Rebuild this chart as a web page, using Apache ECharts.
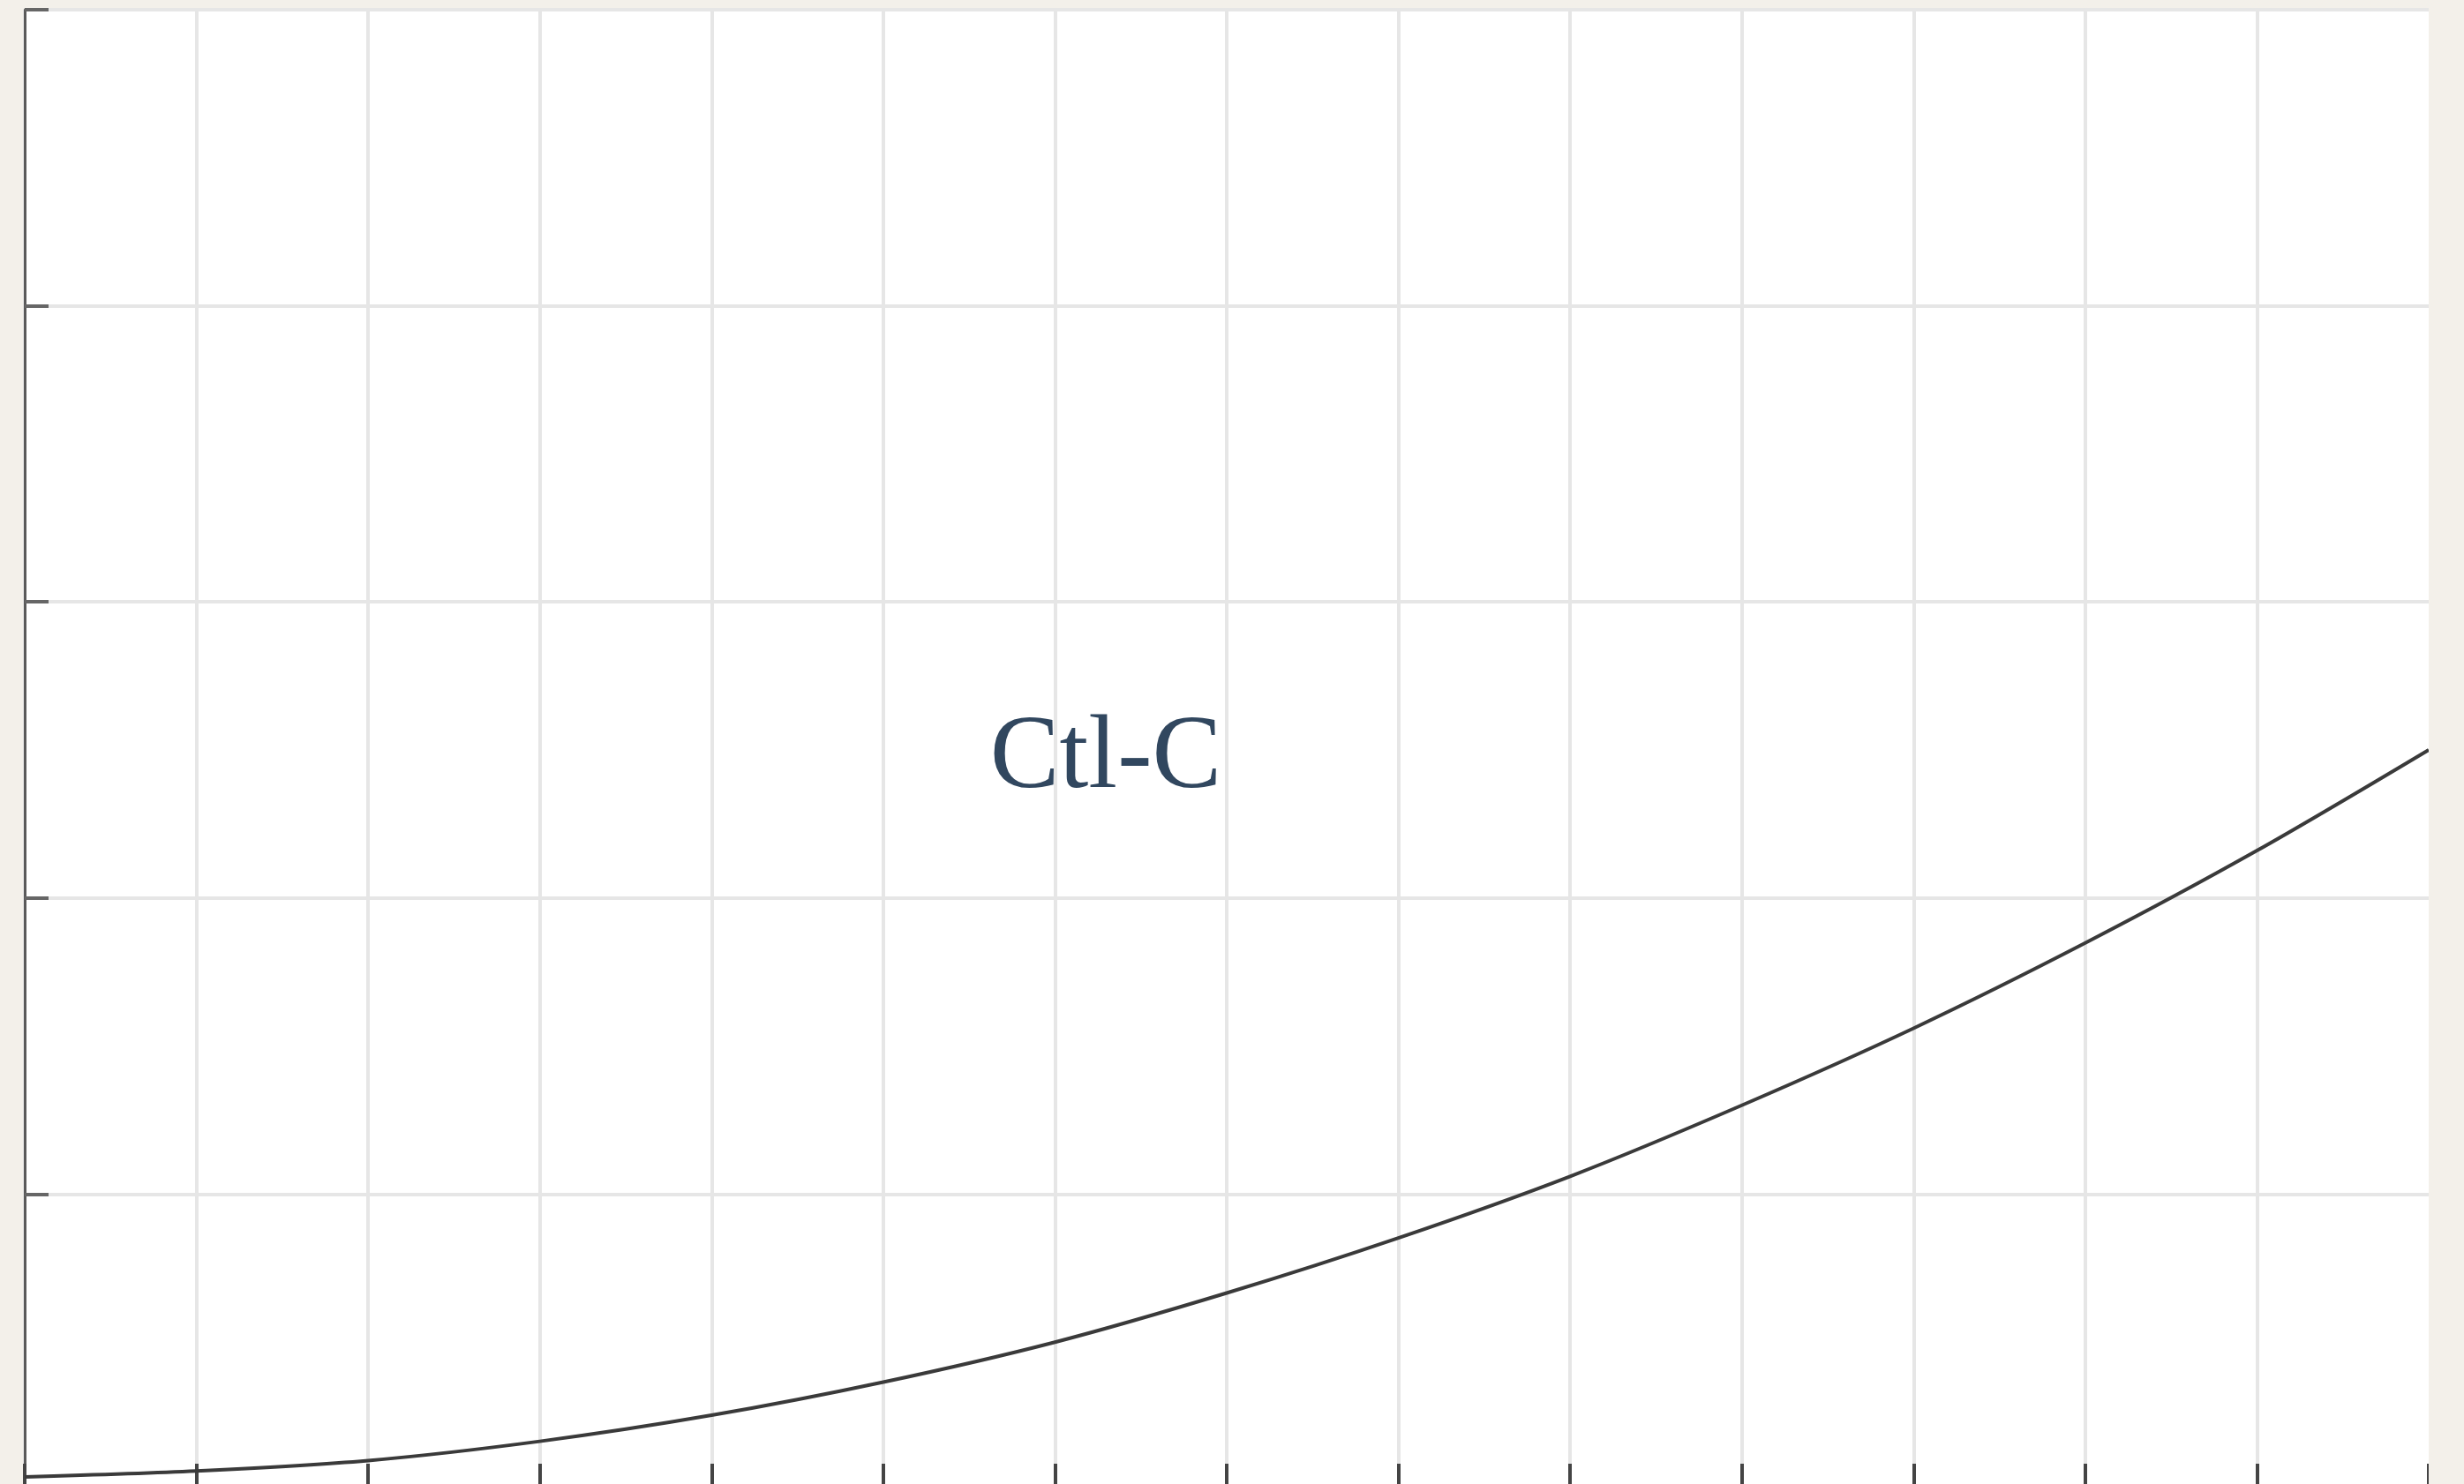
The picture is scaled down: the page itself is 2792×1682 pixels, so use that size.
<!DOCTYPE html>
<html>
<head>
<meta charset="utf-8">
<title>Ctl-C</title>
<script src="https://cdn.jsdelivr.net/npm/echarts@6/dist/echarts.min.js"></script>
<style>
  html, body {
    margin: 0;
    padding: 0;
    background: #f3f0ea;
    overflow: hidden;
  }
  /* the original plot is cut off on the right and at the bottom */
  .frame {
    width: 2752px;
    height: 1682px;
    overflow: hidden;
  }
  #chart {
    width: 2760px;
    height: 1700px;
  }
</style>
</head>
<body>
<div class="frame">
  <div id="chart"></div>
</div>
<script>
// values (grid units)
const xValues = [0, 1, 2, 3, 4, 5, 6, 7, 8, 9, 10, 11, 12, 13, 14]
const yValues = [0.045, 0.065, 0.1, 0.165, 0.253, 0.365, 0.5, 0.666, 0.852, 1.06, 1.3, 1.56, 1.848, 2.16, 2.5]
const label = 'Ctl-C'

const chart = echarts.init(document.getElementById('chart'))

const option = {
  animation: false,
  grid: {
    left: 28,
    right: 8,
    top: 11,
    bottom: 11,
    show: true,
    backgroundColor: '#ffffff',
    borderWidth: 0
  },
  xAxis: {
    type: 'value',
    min: 0,
    max: 14,
    interval: 1,
    axisLabel: { show: false },
    axisLine: {
      show: true,
      onZero: false,
      lineStyle: { color: '#555', width: 3 }
    },
    axisTick: {
      show: true,
      inside: true,
      length: 30,
      lineStyle: { color: '#444', width: 4 }
    },
    splitLine: {
      show: true,
      showMaxLine: false,
      lineStyle: { color: '#e6e6e6', width: 4 }
    }
  },
  yAxis: {
    type: 'value',
    min: 0,
    max: 5,
    interval: 1,
    axisLabel: { show: false },
    axisLine: {
      show: true,
      lineStyle: { color: '#5a5a5a', width: 3 }
    },
    axisTick: {
      show: true,
      inside: true,
      length: 27,
      lineStyle: { color: '#666', width: 4 }
    },
    splitLine: {
      show: true,
      lineStyle: { color: '#e6e6e6', width: 4 }
    }
  },
  graphic: [{
    type: 'text',
    x: 1253,
    y: 861,
    z: 10,
    style: {
      text: label,
      fill: '#31475f',
      font: '118px "Liberation Serif", serif',
      align: 'center',
      verticalAlign: 'middle'
    }
  }],
  series: [{
    type: 'line',
    smooth: 0.3,
    symbol: 'none',
    lineStyle: { color: '#3a3a3a', width: 4 },
    data: xValues.map((x, i) => [x, yValues[i]])
  }]
}

chart.setOption(option)
</script>
</body>
</html>
